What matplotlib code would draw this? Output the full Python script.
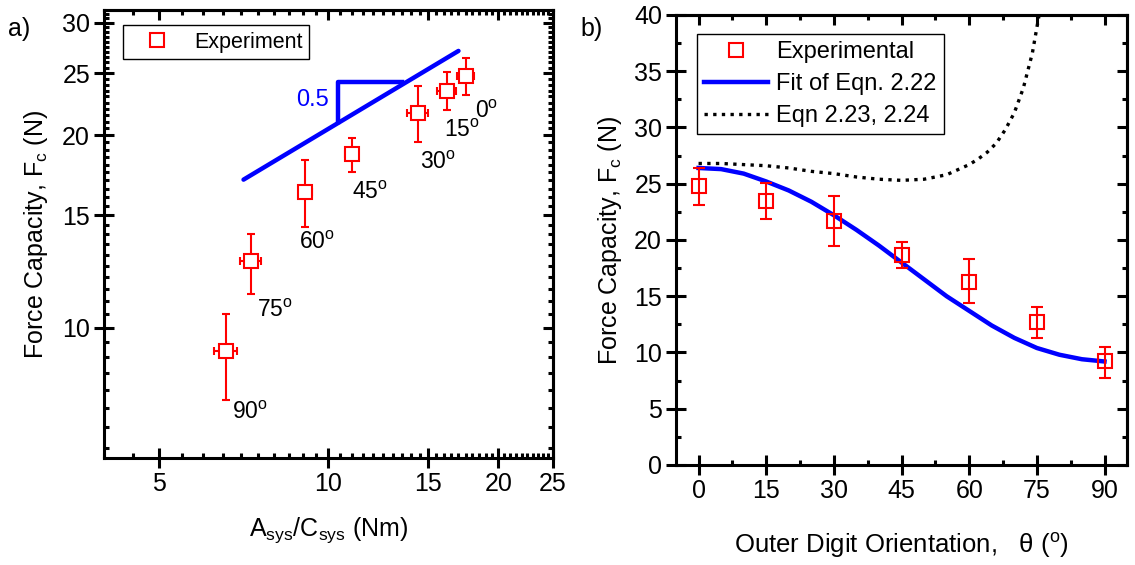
import numpy as np
import matplotlib
matplotlib.use("Agg")
import matplotlib.pyplot as plt
from matplotlib.ticker import FixedLocator, NullFormatter

plt.rcParams["font.family"] = ["Liberation Sans", "DejaVu Sans"]
plt.rcParams["mathtext.fontset"] = "custom"
plt.rcParams["mathtext.rm"] = "Liberation Sans"
plt.rcParams["mathtext.it"] = "Liberation Sans:italic"
plt.rcParams["mathtext.bf"] = "Liberation Sans:bold"

# experimental data (same points in both panels)
angles = [0, 15, 30, 45, 60, 75, 90]
force = [24.8, 23.5, 21.7, 18.7, 16.3, 12.7, 9.2]
force_lo = [23.1, 21.9, 19.5, 17.5, 14.4, 11.3, 7.7]
force_hi = [26.4, 25.1, 23.9, 19.8, 18.3, 14.0, 10.5]
ratio = [17.5, 16.2, 14.4, 11.0, 9.1, 7.28, 6.58]
ratio_err = [0.6, 0.6, 0.6, 0.3, 0.25, 0.3, 0.3]

# slope guide in panel a
slope_x = [7.07, 17.0]
slope_y = [17.05, 27.1]
tri_x = [10.41, 10.41, 13.5]
tri_y = [21.0, 24.2, 24.2]

# fit and model curves in panel b
theta_fit = [0, 5, 10, 15, 20, 25, 30, 35, 40, 45, 50, 55, 60, 65, 70, 75, 80, 85, 90]
force_fit = [26.4, 26.3, 25.9, 25.2, 24.4, 23.4, 22.2, 20.9, 19.5, 18.0,
             16.5, 15.0, 13.7, 12.4, 11.3, 10.4, 9.8, 9.4, 9.2]
theta_eqn = [0, 5, 10, 15, 20, 25, 30, 35, 40, 45, 50, 55, 60, 62, 64, 66, 68,
             70, 72, 74, 75.5]
force_eqn = [26.8, 26.8, 26.7, 26.6, 26.4, 26.1, 25.9, 25.6, 25.4, 25.3, 25.4,
             25.8, 26.7, 27.2, 27.8, 28.6, 29.8, 31.3, 33.5, 36.6, 40.0]

red = "#ff0000"
blue = "#0000ff"
err_y = [np.array(force) - np.array(force_lo), np.array(force_hi) - np.array(force)]

fig = plt.figure(figsize=(11.35, 5.65), dpi=100)
ax1 = fig.add_axes([0.0916, 0.1894, 0.3956, 0.7929])
ax2 = fig.add_axes([0.5956, 0.1770, 0.3974, 0.7965])


def style_axes(ax):
    for s in ax.spines.values():
        s.set_linewidth(2.2)
    ax.tick_params(which="major", direction="inout", length=14, width=2.2,
                   labelsize=18, pad=3)
    ax.tick_params(which="minor", direction="in", length=3.5, width=2.2)
    top = ax.secondary_xaxis("top")
    right = ax.secondary_yaxis("right")
    for sec in (top, right):
        sec.tick_params(which="major", direction="in", length=7, width=2.2)
        sec.tick_params(which="minor", direction="in", length=3.5, width=2.2)
        sec.spines[:].set_linewidth(2.2)
    return top, right


# ---- panel a ----
ax1.set_xscale("log")
ax1.set_yscale("log")
ax1.set_xlim(4, 25)
ax1.set_ylim(6.26, 31.4)

ax1.plot(slope_x, slope_y, color=blue, lw=3.2, solid_capstyle="round")
ax1.plot(tri_x, tri_y, color=blue, lw=3.2)
ax1.text(9.37, 22.7, "0.5", color=blue, fontsize=17, ha="center", va="center")

ax1.errorbar(ratio, force, xerr=ratio_err, yerr=err_y, fmt="none",
             ecolor=red, elinewidth=1.5, capsize=3, capthick=1.5)
ax1.plot(ratio, force, "s", ms=10, mfc="white", mec=red, mew=1.5,
         label="Experiment")

label_pos = [(18.2, 21.3), (16.0, 19.9), (14.5, 17.7), (11.0, 15.9),
             (8.85, 13.3), (7.46, 10.4), (6.74, 7.2)]
for a, (lx, ly) in zip(angles, label_pos):
    ax1.text(lx, ly, f"{a}" + r"$^{\mathrm{o}}$", fontsize=16.5,
             ha="left", va="baseline")

ax1_ticks_x = [5, 10, 15, 20, 25]
ax1_ticks_y = [10, 15, 20, 25, 30]
minor_x = [v for v in np.arange(4, 25.01, 0.5) if v not in ax1_ticks_x]
minor_y = [v for v in np.arange(6.5, 31.01, 0.5) if v not in ax1_ticks_y]

t1, r1 = style_axes(ax1)
for axis, maj, mnr in ((ax1.xaxis, ax1_ticks_x, minor_x), (ax1.yaxis, ax1_ticks_y, minor_y),
                      (t1.xaxis, ax1_ticks_x, minor_x), (r1.yaxis, ax1_ticks_y, minor_y)):
    axis.set_major_locator(FixedLocator(maj))
    axis.set_minor_locator(FixedLocator(mnr))
    axis.set_minor_formatter(NullFormatter())
ax1.set_xticklabels([str(v) for v in ax1_ticks_x])
ax1.set_yticklabels([str(v) for v in ax1_ticks_y])
t1.set_xticklabels([])
r1.set_yticklabels([])

ax1.set_xlabel(r"A$_{\mathrm{sys}}$/C$_{\mathrm{sys}}$ (Nm)", fontsize=18, labelpad=14)
ax1.set_ylabel(r"Force Capacity, F$_{\mathrm{c}}$ (N)", fontsize=18, labelpad=9)

leg1 = ax1.legend(loc="upper left", bbox_to_anchor=(0.042, 0.966), borderaxespad=0,
                  fontsize=15.5, handlelength=2.6, handletextpad=0.4,
                  fancybox=False, edgecolor="black", framealpha=1, borderpad=0.3)
leg1.get_frame().set_linewidth(1.0)

# ---- panel b ----
ax2.set_xlim(-5, 95)
ax2.set_ylim(0, 40)

ax2.plot(theta_eqn, force_eqn, color="black", lw=2.4, ls=(0, (1, 1.6)),
         label="Eqn 2.23, 2.24", zorder=2)
ax2.plot(theta_fit, force_fit, color=blue, lw=3.2, label="Fit of Eqn. 2.22", zorder=2)
ax2.errorbar(angles, force, yerr=err_y, fmt="none", ecolor=red,
             elinewidth=1.5, capsize=4, capthick=1.5, zorder=3)
ax2.plot(angles, force, "s", ms=10.5, mfc="none", mec=red, mew=1.5,
         label="Experimental", zorder=4)

ax2_ticks_x = [0, 15, 30, 45, 60, 75, 90]
ax2_ticks_y = [0, 5, 10, 15, 20, 25, 30, 35, 40]
t2, r2 = style_axes(ax2)
for axis, maj, mnr in ((ax2.xaxis, ax2_ticks_x, np.arange(7.5, 90, 15)),
                      (ax2.yaxis, ax2_ticks_y, np.arange(2.5, 40, 5)),
                      (t2.xaxis, ax2_ticks_x, np.arange(7.5, 90, 15)),
                      (r2.yaxis, ax2_ticks_y, np.arange(2.5, 40, 5))):
    axis.set_major_locator(FixedLocator(maj))
    axis.set_minor_locator(FixedLocator(mnr))
t2.set_xticklabels([])
r2.set_yticklabels([])

ax2.set_xlabel(r"Outer Digit Orientation,   θ ($^{\mathrm{o}}$)", fontsize=18.5, labelpad=20)
ax2.set_ylabel(r"Force Capacity, F$_{\mathrm{c}}$ (N)", fontsize=18, labelpad=7)

h, l = ax2.get_legend_handles_labels()
order = [2, 1, 0]
leg2 = ax2.legend([h[i] for i in order], [l[i] for i in order], loc="upper left",
                  bbox_to_anchor=(0.0466, 0.958), borderaxespad=0, fontsize=17,
                  handlelength=2.7, handletextpad=0.35, labelspacing=0.42,
                  fancybox=False, edgecolor="black", framealpha=1, borderpad=0.3)
leg2.get_frame().set_linewidth(1.0)

fig.text(0.007, 0.97, "a)", fontsize=18, ha="left", va="top")
fig.text(0.511, 0.97, "b)", fontsize=18, ha="left", va="top")

fig.savefig("out.png", dpi=100)
